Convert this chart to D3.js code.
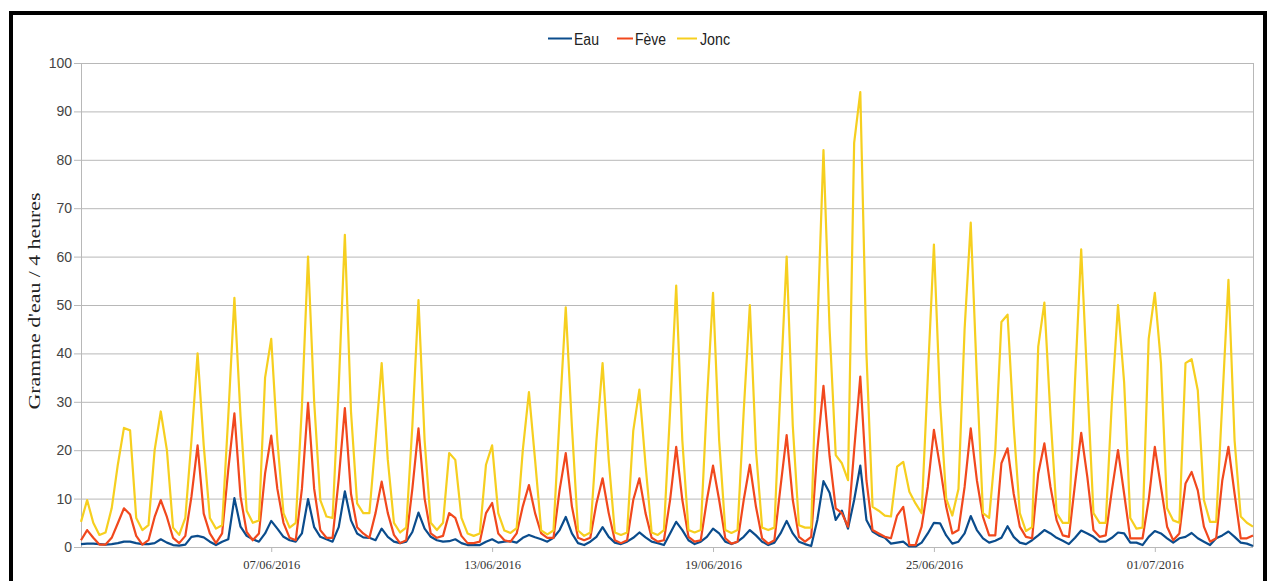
<!DOCTYPE html>
<html><head><meta charset="utf-8">
<script src="https://cdn.jsdelivr.net/npm/d3@7"></script>
<style>
html,body{margin:0;padding:0;background:#fff;}
svg{display:block;}
</style></head><body>
<svg id="chart" width="1268" height="581"></svg>
<script>
// ---- data ----
const startTime = new Date(2016, 5, 1, 20, 0);   // first 4-hour sample
const stepHours = 4;
const seriesNames = ["Eau", "Fève", "Jonc"];
const seriesColors = ["#0b4c8c", "#f1481d", "#f6cf1f"];

const eau = [
0.6,0.7,0.7,0.6,0.5,0.6,0.8,1.1,1.1,0.8,
0.6,0.6,0.8,1.6,0.9,0.4,0.3,0.5,2.1,2.3,
2.0,1.1,0.4,1.1,1.6,10.1,4.2,2.3,1.6,1.1,
2.8,5.4,3.8,2.1,1.4,1.1,2.8,9.9,4.1,2.1,
1.6,1.1,4.1,11.5,5.5,2.8,2.0,1.9,1.4,3.8,
2.1,1.1,0.8,1.1,3.1,7.1,3.8,2.1,1.4,1.1,
1.2,1.6,0.8,0.4,0.4,0.4,1.1,1.6,0.9,1.1,
1.2,0.9,1.9,2.5,2.0,1.6,1.1,1.9,3.5,6.2,
2.8,0.8,0.4,1.1,2.1,4.1,2.1,0.9,0.6,1.1,
1.9,3.0,2.0,1.1,0.8,0.4,2.8,5.2,3.5,1.4,
0.6,1.1,2.1,3.8,2.8,1.1,0.6,1.1,2.1,3.5,
2.4,1.1,0.4,0.9,2.8,5.4,2.8,1.1,0.6,0.2,
5.6,13.6,11.2,5.6,7.5,3.8,9.7,16.8,5.6,3.2,
2.4,1.9,0.7,0.9,1.1,0.1,0.1,0.9,2.8,5.0,
4.9,2.4,0.7,1.1,2.8,6.4,3.5,1.8,0.9,1.3,
1.9,4.3,2.1,0.9,0.6,1.4,2.4,3.5,2.8,1.9,
1.3,0.6,1.9,3.4,2.8,2.1,1.1,1.1,1.9,3.0,
2.8,0.9,0.9,0.4,2.1,3.3,2.8,1.8,0.9,1.8,
2.1,2.9,1.8,1.1,0.4,1.8,2.4,3.2,2.1,0.9,
0.7,0.2];

const feve = [
1.4,3.5,1.9,0.5,0.5,1.9,4.9,8.0,6.7,2.3,
0.5,1.4,6.2,9.7,6.2,1.9,0.8,2.3,10.4,21.0,
6.9,2.8,0.8,2.8,16.0,27.6,10.4,3.1,1.4,2.8,
15.2,23.0,12.0,5.0,1.9,1.4,12.0,29.8,12.0,3.5,
1.9,1.9,14.0,28.7,11.0,4.1,2.8,1.9,7.0,13.5,
7.0,2.5,0.8,1.4,12.0,24.5,10.0,2.8,1.9,2.3,
7.0,6.0,2.3,0.8,0.8,1.1,7.0,9.1,2.8,1.4,
1.1,2.8,8.4,12.8,7.0,2.8,1.9,1.9,11.8,19.4,
8.4,1.9,1.4,1.9,9.0,14.2,7.0,1.4,0.8,1.4,
9.7,14.2,7.0,1.9,1.1,1.4,9.7,20.7,9.7,2.1,
1.1,1.4,9.7,16.8,9.7,1.8,0.7,1.1,9.7,17.0,
8.3,1.8,0.7,1.4,12.4,23.1,9.7,2.1,1.1,2.1,
20.0,33.3,18.7,8.0,7.0,4.2,20.0,35.2,13.8,3.5,
2.8,2.1,1.8,6.5,8.3,0.4,0.4,4.2,12.4,24.2,
16.6,8.3,2.8,3.5,12.4,24.5,13.8,6.2,2.4,2.4,
17.3,20.4,11.0,4.2,2.1,1.8,15.2,21.4,12.4,5.5,
2.4,2.1,13.1,23.6,14.5,3.5,2.1,2.4,11.7,20.0,
11.0,1.8,1.8,1.8,9.7,20.7,12.4,4.2,1.4,2.8,
13.1,15.5,11.7,4.2,1.1,1.8,13.8,20.7,11.0,1.8,
1.8,2.4];

const jonc = [
5.2,9.7,5.0,2.5,3.0,8.0,17.0,24.6,24.1,6.0,
3.5,4.5,20.0,28.0,20.0,4.0,2.5,6.0,22.0,40.0,
21.0,6.0,3.8,4.5,27.0,51.5,27.0,7.5,5.0,5.5,
35.0,43.0,22.0,7.0,4.0,5.0,29.0,60.0,30.0,9.7,
6.3,6.0,33.0,64.5,28.0,9.0,7.0,7.0,22.0,38.0,
18.0,5.0,3.0,4.0,25.0,51.0,22.0,5.0,3.5,5.0,
19.4,18.0,6.0,2.8,2.3,2.8,17.0,21.0,7.0,3.4,
2.9,3.9,20.0,32.0,18.0,3.4,2.6,3.4,27.0,49.5,
25.0,3.4,2.3,3.0,22.0,38.0,18.0,3.0,2.5,3.0,
24.0,32.5,17.0,3.0,2.5,3.5,28.0,54.0,22.0,3.5,
3.0,3.5,30.0,52.5,22.0,3.5,2.9,3.5,28.0,50.0,
20.0,4.0,3.5,4.0,33.0,60.0,25.0,4.5,4.0,4.0,
45.0,82.0,45.0,19.0,17.3,13.8,83.5,94.0,40.0,8.3,
7.5,6.5,6.3,16.6,17.6,11.4,9.0,7.0,35.0,62.5,
30.0,10.0,6.5,12.0,45.0,67.0,35.0,7.0,6.0,20.0,
46.5,48.0,25.0,7.0,3.3,4.1,41.4,50.5,27.0,7.0,
5.0,5.0,34.5,61.5,34.0,7.0,5.0,5.0,30.0,50.0,
34.0,6.0,3.8,4.0,43.0,52.5,38.0,8.0,5.5,5.0,
38.0,38.8,32.4,9.7,5.2,5.2,30.0,55.2,22.0,6.3,
5.0,4.2];

const yTicks = [0, 10, 20, 30, 40, 50, 60, 70, 80, 90, 100];
const xTickDates = [new Date(2016,5,7), new Date(2016,5,13), new Date(2016,5,19), new Date(2016,5,25), new Date(2016,6,1)];
const yLabel = "Gramme d'eau / 4 heures";

// ---- chart ----
const svg = d3.select("#chart");
const times = eau.map((_, i) => d3.timeHour.offset(startTime, i * stepHours));
const plot = {left: 81, right: 1253, top: 63, bottom: 547};

const x = d3.scaleTime().domain([times[0], times[times.length - 1]]).range([plot.left, plot.right]);
const y = d3.scaleLinear().domain([0, 100]).range([plot.bottom, plot.top]);

// outer black frame
svg.append("rect").attr("x", 11).attr("y", 13).attr("width", 1254).attr("height", 620)
  .attr("fill", "none").attr("stroke", "#000").attr("stroke-width", 4);

// gridlines
svg.append("g").selectAll("line").data(yTicks).join("line")
  .attr("x1", plot.left).attr("x2", plot.right)
  .attr("y1", d => y(d) + 0.5).attr("y2", d => y(d) + 0.5)
  .attr("stroke", "#b8b8b8").attr("stroke-width", 1);

// plot side borders
svg.append("line").attr("x1", plot.left + 0.5).attr("x2", plot.left + 0.5)
  .attr("y1", plot.top).attr("y2", plot.bottom).attr("stroke", "#b8b8b8");
svg.append("line").attr("x1", plot.right + 0.5).attr("x2", plot.right + 0.5)
  .attr("y1", plot.top).attr("y2", plot.bottom).attr("stroke", "#b8b8b8");

// y axis
const yAxis = svg.append("g").attr("transform", `translate(${plot.left},0)`)
  .call(d3.axisLeft(y).tickValues(yTicks).tickSize(7).tickPadding(2));
yAxis.select(".domain").remove();
yAxis.selectAll(".tick line").attr("stroke", "#b8b8b8");
yAxis.selectAll(".tick text").attr("fill", "#444")
  .style("font-family", "'Liberation Sans', Arial, sans-serif").style("font-size", "14px");

// x axis
const xAxis = svg.append("g").attr("transform", `translate(0,${plot.bottom})`)
  .call(d3.axisBottom(x).tickValues(xTickDates).tickFormat(d3.timeFormat("%d/%m/%Y")).tickSize(5).tickPadding(8));
xAxis.select(".domain").remove();
xAxis.selectAll(".tick line").attr("stroke", "#b8b8b8");
xAxis.selectAll(".tick text").attr("fill", "#333")
  .style("font-family", "'Liberation Serif', 'Times New Roman', serif").style("font-size", "12.5px");

// y label
svg.append("text").attr("transform", "translate(40,301) rotate(-90)")
  .attr("text-anchor", "middle").attr("fill", "#222")
  .style("font-family", "'Liberation Serif', 'Times New Roman', serif").style("font-size", "17px")
  .attr("textLength", 217).attr("lengthAdjust", "spacingAndGlyphs")
  .text(yLabel);

// lines
const allSeries = [eau, feve, jonc];
const line = d3.line().x((d, i) => x(times[i])).y(d => y(d));
svg.append("g").selectAll("path").data(allSeries).join("path")
  .attr("d", d => line(d))
  .attr("fill", "none")
  .attr("stroke", (d, i) => seriesColors[i])
  .attr("stroke-width", 2.2)
  .attr("stroke-linejoin", "round");

// legend
const legendItems = [
  {x1: 548, x2: 572, tx: 574, tw: 25},
  {x1: 617, x2: 633, tx: 635, tw: 31},
  {x1: 677, x2: 697, tx: 700, tw: 30}
];
const lg = svg.append("g");
seriesNames.forEach((name, i) => {
  const it = legendItems[i];
  lg.append("line").attr("x1", it.x1).attr("x2", it.x2).attr("y1", 38.5).attr("y2", 38.5)
    .attr("stroke", seriesColors[i]).attr("stroke-width", 2);
  lg.append("text").attr("x", it.tx).attr("y", 44.5).attr("fill", "#222")
    .style("font-family", "'Liberation Sans Narrow', 'Liberation Sans', Arial, sans-serif").style("font-size", "16px")
    .attr("textLength", it.tw).attr("lengthAdjust", "spacingAndGlyphs")
    .text(name);
});
</script>
</body></html>
